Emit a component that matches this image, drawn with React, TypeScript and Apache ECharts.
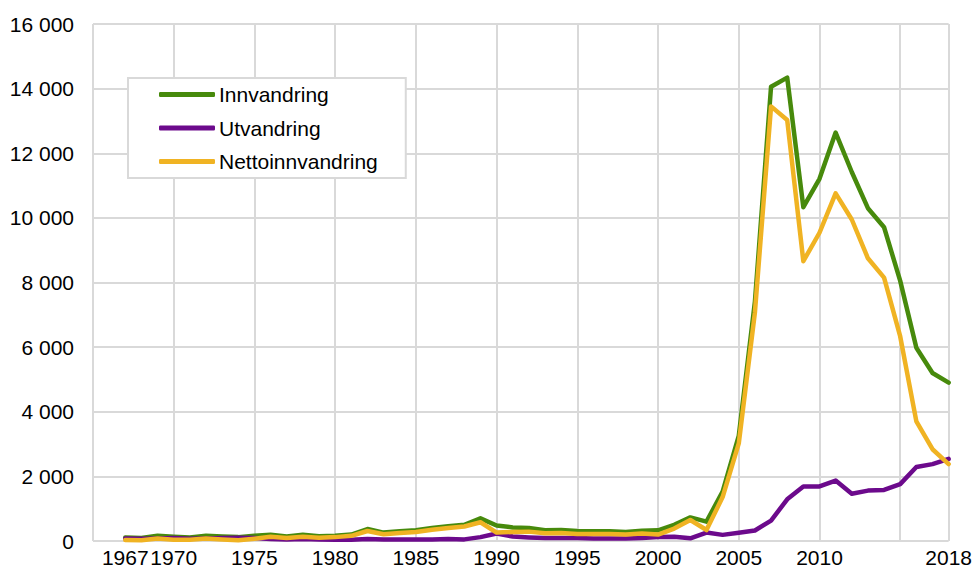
import React, { useEffect, useRef } from "react";
import * as echarts from "echarts";

const years: number[] = [
  1967, 1968, 1969, 1970, 1971, 1972, 1973, 1974, 1975, 1976, 1977, 1978, 1979,
  1980, 1981, 1982, 1983, 1984, 1985, 1986, 1987, 1988, 1989, 1990, 1991, 1992,
  1993, 1994, 1995, 1996, 1997, 1998, 1999, 2000, 2001, 2002, 2003, 2004, 2005,
  2006, 2007, 2008, 2009, 2010, 2011, 2012, 2013, 2014, 2015, 2016, 2017, 2018,
];

const innvandring: number[] = [
  110, 90, 160, 130, 110, 160, 140, 120, 160, 190, 140, 190, 150,
  160, 200, 370, 260, 300, 330, 400, 460, 500, 700, 480, 420, 400,
  330, 340, 310, 300, 300, 280, 320, 330, 500, 730, 600, 1530, 3250,
  7400, 14060, 14340, 10330, 11210, 12640, 11420, 10300, 9710, 8050, 5980, 5200, 4900,
];

const utvandring: number[] = [
  80, 70, 80, 90, 70, 80, 90, 100, 90, 60, 50, 60, 50,
  40, 40, 60, 50, 50, 50, 50, 60, 50, 120, 230, 140, 110,
  90, 90, 90, 80, 80, 80, 90, 125, 135, 85, 260, 190, 255,
  325, 630, 1290, 1690, 1690, 1870, 1460, 1560, 1580, 1760, 2290, 2380, 2540,
];

const nettoinnvandring: number[] = [
  30, 20, 80, 40, 40, 80, 50, 20, 70, 130, 90, 130, 100,
  120, 160, 310, 210, 250, 280, 350, 400, 450, 580, 260, 280, 290,
  240, 250, 220, 220, 220, 200, 230, 200, 385, 650, 340, 1360, 3020,
  7070, 13450, 13030, 8660, 9540, 10760, 9950, 8750, 8150, 6330, 3700, 2840, 2380,
];

const xLabelValues: number[] = [1967, 1970, 1975, 1980, 1985, 1990, 1995, 2000, 2005, 2010, 2018];

const seriesNames = ["Innvandring", "Utvandring", "Nettoinnvandring"];
const seriesColors = ["#478a0c", "#6c0a8c", "#f0b323"];

const FONT = "'Liberation Sans', Arial, Helvetica, sans-serif";

function fmt(v: number): string {
  const s = String(Math.round(v));
  return s.replace(/\B(?=(\d{3})+(?!\d))/g, " ");
}

export default function App() {
  const ref = useRef<HTMLDivElement>(null);

  useEffect(() => {
    if (!ref.current) return;
    const chart = echarts.init(ref.current, undefined, { renderer: "svg" });
    const datasets = [innvandring, utvandring, nettoinnvandring];
    chart.setOption({
      animation: false,
      backgroundColor: "#ffffff",
      textStyle: { fontFamily: FONT },
      grid: { left: 93, right: 26, top: 24, bottom: 27, containLabel: false },
      legend: {
        orient: "vertical",
        left: 128,
        top: 78,
        data: seriesNames.map((n) => ({ name: n, icon: "roundRect" })),
        backgroundColor: "#ffffff",
        borderColor: "#d9d9d9",
        borderWidth: 2,
        padding: [6, 28, 6, 31],
        itemWidth: 56,
        itemHeight: 5,
        itemGap: 12.5,
        textStyle: { fontSize: 21, color: "#000000", fontFamily: FONT, padding: [0, 0, 0, -1] },
      },
      xAxis: {
        type: "value",
        min: 1965,
        max: 2018,
        interval: 5,
        axisLine: { show: false },
        axisTick: { show: false },
        splitLine: { show: true, lineStyle: { color: "#d9d9d9", width: 2 } },
        axisLabel: {
          customValues: xLabelValues,
          fontSize: 21,
          color: "#000000",
          margin: 6,
          fontFamily: FONT,
          formatter: (v: number) => String(v),
        },
      },
      yAxis: {
        type: "value",
        min: 0,
        max: 16000,
        interval: 2000,
        axisLine: { show: false },
        axisTick: { show: false },
        splitLine: { show: true, lineStyle: { color: "#d9d9d9", width: 2 } },
        axisLabel: {
          fontSize: 21,
          color: "#000000",
          margin: 19,
          fontFamily: FONT,
          formatter: (v: number) => fmt(v),
        },
      },
      series: seriesNames.map((name, i) => ({
        name,
        type: "line",
        data: years.map((y, j) => [y, datasets[i][j]]),
        showSymbol: false,
        symbol: "none",
        color: seriesColors[i],
        itemStyle: { color: seriesColors[i] },
        lineStyle: { color: seriesColors[i], width: 4.5, cap: "round", join: "round" },
        z: 2 + i,
      })),
    });
    return () => chart.dispose();
  }, []);

  return <div ref={ref} style={{ width: 975, height: 568, position: "absolute", left: 0, top: 0 }} />;
}
